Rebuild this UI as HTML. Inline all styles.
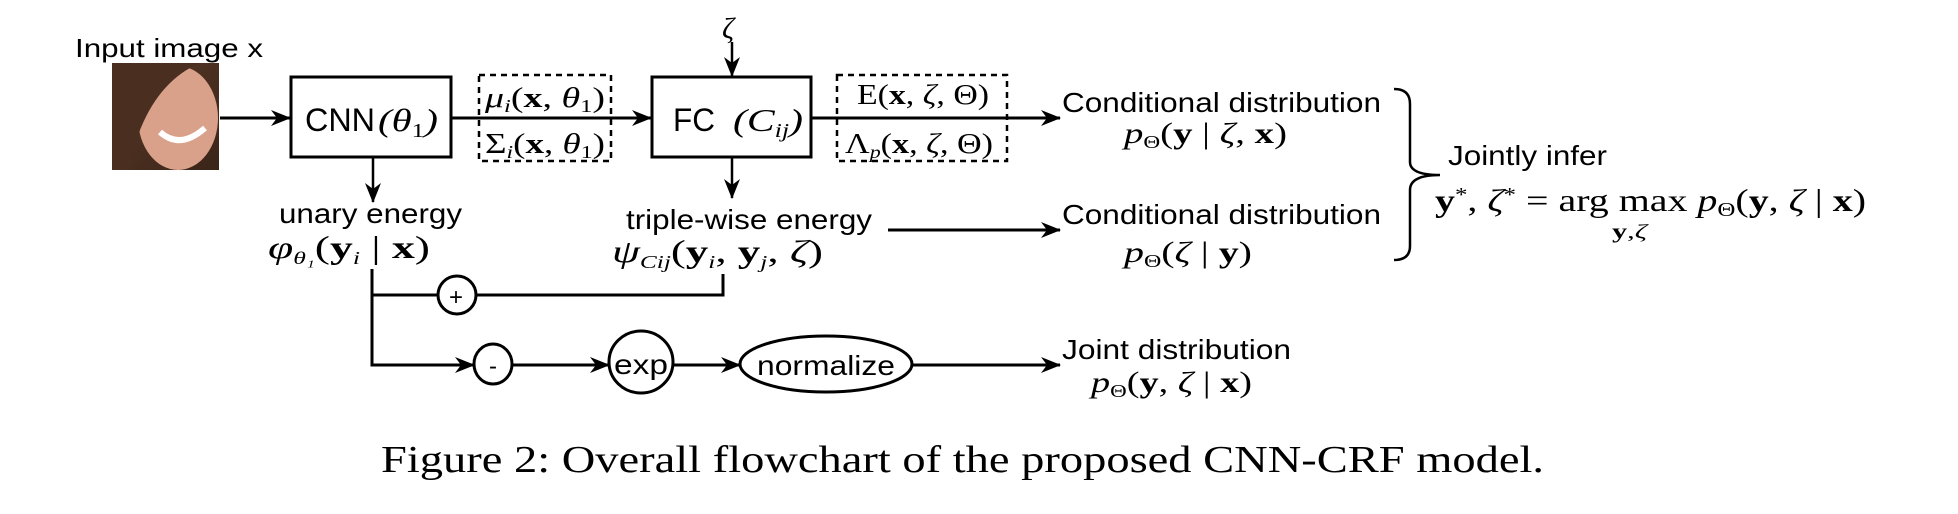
<!DOCTYPE html>
<html><head><meta charset="utf-8"><style>
html,body{margin:0;padding:0;background:#fff;}
svg{display:block;}
.s{font-family:"Liberation Sans",Arial,sans-serif;fill:#000;}
.m{font-family:"Liberation Serif","Times New Roman",serif;fill:#000;}
</style></head><body>
<svg width="1958" height="514" viewBox="0 0 1958 514" xmlns="http://www.w3.org/2000/svg">
<defs>
<marker id="a" markerWidth="20" markerHeight="16" refX="19" refY="8" orient="auto" markerUnits="userSpaceOnUse">
<path d="M0,0 L20,8 L0,16 L6,8 Z" fill="#000"/>
</marker>
<linearGradient id="hair" x1="0" y1="0" x2="1" y2="1"><stop offset="0" stop-color="#5a3a28"/><stop offset="1" stop-color="#3a2418"/></linearGradient>
</defs>
<g stroke="#000" stroke-width="3" fill="none">
<!-- face -->
<rect x="112" y="63" width="107" height="107" fill="url(#hair)" stroke="none"/>
<ellipse cx="178" cy="118" rx="40" ry="52" fill="#d9a08a" stroke="none"/>
<path d="M112,63 L200,63 Q160,80 140,130 L130,170 L112,170 Z" fill="#4a2e20" stroke="none"/>
<path d="M160,132 Q180,150 205,128" stroke="#fff" stroke-width="6"/>
<line x1="220" y1="118" x2="290" y2="118" marker-end="url(#a)"/>
<rect x="291" y="77" width="160" height="80"/>
<line x1="451" y1="118" x2="651" y2="118" marker-end="url(#a)"/>
<rect x="479" y="75" width="132" height="86" stroke-width="2.5" stroke-dasharray="6,5"/>
<rect x="652" y="77" width="159" height="80"/>
<line x1="732" y1="42" x2="732" y2="76" stroke-width="2.5" marker-end="url(#a)"/>
<line x1="811" y1="118" x2="1060" y2="118" marker-end="url(#a)"/>
<rect x="837" y="75" width="170" height="86" stroke-width="2.5" stroke-dasharray="6,5"/>
<line x1="373" y1="157" x2="373" y2="202" stroke-width="2.5" marker-end="url(#a)"/>
<line x1="732" y1="157" x2="732" y2="198" stroke-width="2.5" marker-end="url(#a)"/>
<line x1="888" y1="230" x2="1060" y2="230" marker-end="url(#a)"/>
<polyline points="372,269 372,365 474,365" marker-end="url(#a)"/>
<polyline points="372,295 723,295 723,274"/>
<circle cx="457" cy="295" r="19" fill="#fff"/>
<ellipse cx="493" cy="364" rx="19" ry="20" fill="#fff"/>
<line x1="512" y1="365" x2="609" y2="365" marker-end="url(#a)"/>
<ellipse cx="641" cy="362" rx="32" ry="31" fill="#fff"/>
<line x1="673" y1="365" x2="740" y2="365" marker-end="url(#a)"/>
<ellipse cx="826" cy="364" rx="86" ry="28" fill="#fff"/>
<line x1="912" y1="365" x2="1060" y2="365" marker-end="url(#a)"/>
<path d="M1394,89 Q1410,89 1410,104 L1410,162 Q1410,175 1440,175 Q1410,175 1410,190 L1410,246 Q1410,260 1394,260" stroke-width="2.5"/>
</g>
<text class="s" x="75" y="57" font-size="26" textLength="188" lengthAdjust="spacingAndGlyphs">Input image x</text>
<text class="s" x="305" y="131" font-size="32" textLength="70" lengthAdjust="spacingAndGlyphs">CNN</text>
<text class="m" x="378" y="131" font-size="32" font-style="italic" textLength="60" lengthAdjust="spacingAndGlyphs">(θ<tspan font-size="20" font-style="normal" dy="6">1</tspan><tspan dy="-6">)</tspan></text>
<text class="m" x="485" y="107" font-size="28" textLength="120" lengthAdjust="spacingAndGlyphs"><tspan font-style="italic">μ</tspan><tspan font-size="18" font-style="italic" dy="5">i</tspan><tspan dy="-5">(</tspan><tspan font-weight="bold">x</tspan>, <tspan font-style="italic">θ</tspan><tspan font-size="18" dy="5">1</tspan><tspan dy="-5">)</tspan></text>
<text class="m" x="485" y="153" font-size="28" textLength="120" lengthAdjust="spacingAndGlyphs">Σ<tspan font-size="18" font-style="italic" dy="5">i</tspan><tspan dy="-5">(</tspan><tspan font-weight="bold">x</tspan>, <tspan font-style="italic">θ</tspan><tspan font-size="18" dy="5">1</tspan><tspan dy="-5">)</tspan></text>
<text class="s" x="673" y="131" font-size="32" textLength="42" lengthAdjust="spacingAndGlyphs">FC</text>
<text class="m" x="733" y="131" font-size="32" font-style="italic" textLength="70" lengthAdjust="spacingAndGlyphs">(C<tspan font-size="20" dy="6">ij</tspan><tspan dy="-6">)</tspan></text>
<text class="m" x="722" y="38" font-size="30" font-style="italic">ζ</text>
<text class="m" x="857" y="104" font-size="28" textLength="132" lengthAdjust="spacingAndGlyphs">E(<tspan font-weight="bold">x</tspan>, <tspan font-style="italic">ζ</tspan>, Θ)</text>
<text class="m" x="845" y="153" font-size="28" textLength="148" lengthAdjust="spacingAndGlyphs">Λ<tspan font-size="18" font-style="italic" dy="5">p</tspan><tspan dy="-5">(</tspan><tspan font-weight="bold">x</tspan>, <tspan font-style="italic">ζ</tspan>, Θ)</text>
<text class="s" x="279" y="223" font-size="28" textLength="183" lengthAdjust="spacingAndGlyphs">unary energy</text>
<text class="m" x="268" y="258" font-size="32" textLength="162" lengthAdjust="spacingAndGlyphs"><tspan font-style="italic">φ</tspan><tspan font-size="18" font-style="italic" dy="6">θ₁</tspan><tspan dy="-6">(</tspan><tspan font-weight="bold">y</tspan><tspan font-size="18" font-style="italic" dy="6">i</tspan><tspan dy="-6"> | </tspan><tspan font-weight="bold">x</tspan>)</text>
<text class="s" x="626" y="229" font-size="28" textLength="246" lengthAdjust="spacingAndGlyphs">triple-wise energy</text>
<text class="m" x="612" y="262" font-size="32" textLength="211" lengthAdjust="spacingAndGlyphs"><tspan font-style="italic">ψ</tspan><tspan font-size="18" font-style="italic" dy="6">Cij</tspan><tspan dy="-6">(</tspan><tspan font-weight="bold">y</tspan><tspan font-size="18" font-style="italic" dy="6">i</tspan><tspan dy="-6">, </tspan><tspan font-weight="bold">y</tspan><tspan font-size="18" font-style="italic" dy="6">j</tspan><tspan dy="-6">, </tspan><tspan font-style="italic">ζ</tspan>)</text>
<text class="s" x="449" y="305" font-size="24">+</text>
<text class="s" x="489" y="374" font-size="24">-</text>
<text class="s" x="614" y="374" font-size="28" textLength="54" lengthAdjust="spacingAndGlyphs">exp</text>
<text class="s" x="757" y="375" font-size="28" textLength="138" lengthAdjust="spacingAndGlyphs">normalize</text>
<text class="s" x="1062" y="112" font-size="28" textLength="319" lengthAdjust="spacingAndGlyphs">Conditional distribution</text>
<text class="m" x="1124" y="143" font-size="30" textLength="163" lengthAdjust="spacingAndGlyphs"><tspan font-style="italic">p</tspan><tspan font-size="18" dy="5">Θ</tspan><tspan dy="-5">(</tspan><tspan font-weight="bold">y</tspan> | <tspan font-style="italic">ζ</tspan>, <tspan font-weight="bold">x</tspan>)</text>
<text class="s" x="1062" y="224" font-size="28" textLength="319" lengthAdjust="spacingAndGlyphs">Conditional distribution</text>
<text class="m" x="1124" y="262" font-size="30" textLength="128" lengthAdjust="spacingAndGlyphs"><tspan font-style="italic">p</tspan><tspan font-size="18" dy="5">Θ</tspan><tspan dy="-5">(</tspan><tspan font-style="italic">ζ</tspan> | <tspan font-weight="bold">y</tspan>)</text>
<text class="s" x="1448" y="165" font-size="28" textLength="159" lengthAdjust="spacingAndGlyphs">Jointly infer</text>
<text class="m" x="1435" y="211" font-size="32" textLength="431" lengthAdjust="spacingAndGlyphs"><tspan font-weight="bold">y</tspan><tspan font-size="20" dy="-10">*</tspan><tspan dy="10">, </tspan><tspan font-style="italic">ζ</tspan><tspan font-size="20" dy="-10">*</tspan><tspan dy="10"> = arg max </tspan><tspan font-style="italic">p</tspan><tspan font-size="20" dy="5">Θ</tspan><tspan dy="-5">(</tspan><tspan font-weight="bold">y</tspan>, <tspan font-style="italic">ζ</tspan> | <tspan font-weight="bold">x</tspan>)</text>
<text class="m" x="1612" y="238" font-size="20" textLength="35" lengthAdjust="spacingAndGlyphs"><tspan font-weight="bold">y</tspan>,<tspan font-style="italic">ζ</tspan></text>
<text class="s" x="1062" y="359" font-size="28" textLength="229" lengthAdjust="spacingAndGlyphs">Joint distribution</text>
<text class="m" x="1091" y="392" font-size="30" textLength="161" lengthAdjust="spacingAndGlyphs"><tspan font-style="italic">p</tspan><tspan font-size="18" dy="5">Θ</tspan><tspan dy="-5">(</tspan><tspan font-weight="bold">y</tspan>, <tspan font-style="italic">ζ</tspan> | <tspan font-weight="bold">x</tspan>)</text>
<text class="m" x="381" y="472" font-size="38" textLength="1163" lengthAdjust="spacingAndGlyphs">Figure 2: Overall flowchart of the proposed CNN-CRF model.</text>
</svg>
</body></html>
